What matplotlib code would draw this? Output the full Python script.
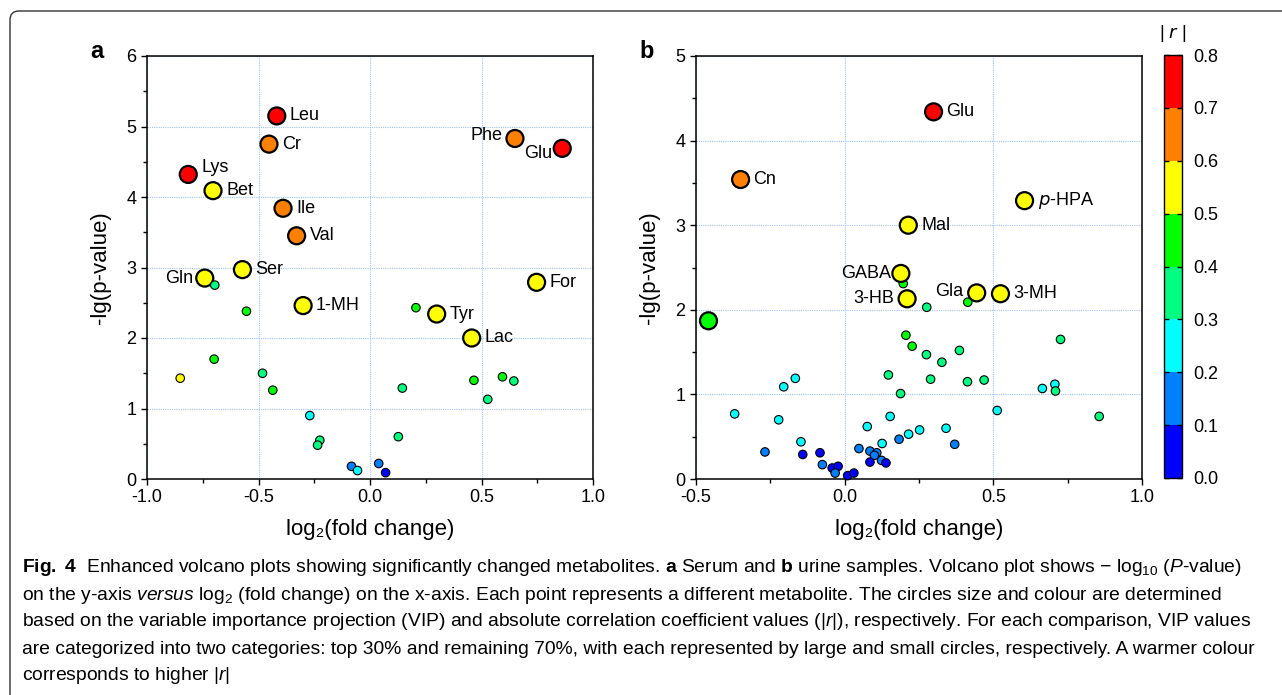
import matplotlib
matplotlib.use("Agg")
import matplotlib.pyplot as plt
import numpy as np
from matplotlib.colors import ListedColormap, BoundaryNorm
from matplotlib.cm import ScalarMappable
from matplotlib.ticker import MultipleLocator, FormatStrFormatter
from matplotlib.patches import FancyBboxPatch
from matplotlib.transforms import IdentityTransform
from matplotlib import font_manager as fm

# ---------------- data ----------------
# Panel a: serum
a_names = ["Leu", "Cr", "Lys", "Bet", "Ile", "Val", "Ser", "Gln", "Phe", "Glu", "For", "1-MH", "Tyr", "Lac",
           "", "", "", "", "", "", "", "", "", "", "", "", "", "", "", "", "", "", "", ""]
a_fc = [-0.418, -0.453, -0.815, -0.704, -0.390, -0.329, -0.572, -0.741, 0.650, 0.862, 0.747, -0.300, 0.299, 0.456,
        -0.696, -0.554, 0.206, -0.851, -0.699, -0.482, -0.436, 0.145, 0.466, 0.594, 0.645, 0.528,
        -0.270, -0.225, -0.235, 0.127, -0.083, -0.056, 0.039, 0.070]
a_p = [5.15, 4.75, 4.32, 4.09, 3.84, 3.45, 2.97, 2.85, 4.83, 4.69, 2.79, 2.46, 2.34, 2.00,
       2.75, 2.38, 2.43, 1.43, 1.70, 1.50, 1.26, 1.29, 1.40, 1.45, 1.39, 1.13,
       0.90, 0.55, 0.48, 0.60, 0.18, 0.12, 0.22, 0.09]
a_r = [0.75, 0.65, 0.75, 0.55, 0.65, 0.65, 0.55, 0.55, 0.65, 0.75, 0.55, 0.55, 0.55, 0.55,
       0.35, 0.45, 0.45, 0.55, 0.45, 0.35, 0.45, 0.35, 0.45, 0.45, 0.35, 0.35,
       0.25, 0.35, 0.35, 0.35, 0.15, 0.25, 0.15, 0.05]
a_top = [1] * 14 + [0] * 20

# Panel b: urine
b_names = ["", "", "", "", "", "", "", "", "", "", "", "", "", "", "", "", "", "", "", "", "",
           "", "", "", "", "", "", "", "", "", "", "", "", "", "", "", "", "", "", "", "", "", "", "", "",
           "", "", "",
           "Glu", "Cn", "p-HPA", "Mal", "GABA", "3-HB", "Gla", "3-MH", ""]
b_fc = [0.197, 0.414, 0.276, 0.206, 0.227, 0.275, 0.386, 0.327, 0.726, 0.147, 0.289, 0.413, 0.469, 0.188,
        0.665, 0.707, 0.709, 0.513, 0.856, 0.341, 0.252,
        0.215, 0.370, -0.370, -0.205, -0.166, -0.222, 0.153, 0.076, -0.147, 0.126, 0.183, -0.268, -0.141,
        -0.083, 0.048, 0.085, 0.108, 0.100, 0.085, 0.124, 0.139, -0.075, -0.042, -0.022,
        -0.032, 0.010, 0.031,
        0.299, -0.350, 0.605, 0.214, 0.189, 0.210, 0.444, 0.524, -0.458]
b_p = [2.31, 2.09, 2.03, 1.70, 1.57, 1.47, 1.52, 1.38, 1.65, 1.23, 1.18, 1.15, 1.17, 1.01,
       1.07, 1.12, 1.04, 0.81, 0.74, 0.60, 0.58,
       0.53, 0.41, 0.77, 1.09, 1.19, 0.70, 0.74, 0.62, 0.44, 0.42, 0.47, 0.32, 0.29,
       0.31, 0.36, 0.33, 0.31, 0.28, 0.20, 0.22, 0.19, 0.17, 0.13, 0.15,
       0.07, 0.04, 0.07,
       4.34, 3.54, 3.29, 3.00, 2.43, 2.13, 2.20, 2.19, 1.87]
b_r = [0.45, 0.45, 0.35, 0.45, 0.45, 0.35, 0.35, 0.35, 0.35, 0.35, 0.35, 0.35, 0.35, 0.35,
       0.25, 0.25, 0.35, 0.25, 0.35, 0.25, 0.25,
       0.25, 0.15, 0.25, 0.25, 0.25, 0.25, 0.25, 0.25, 0.25, 0.25, 0.15, 0.15, 0.05,
       0.05, 0.15, 0.15, 0.15, 0.15, 0.05, 0.15, 0.05, 0.15, 0.05, 0.05,
       0.15, 0.05, 0.05,
       0.75, 0.65, 0.55, 0.55, 0.55, 0.55, 0.55, 0.55, 0.45]
b_top = [0] * 48 + [1] * 9

bin_colors = ["#0000FF", "#0080FF", "#00FFFF", "#00FF80", "#00FF00", "#FFFF00", "#FF8000", "#FF0000"]
r_bounds = [0.0, 0.1, 0.2, 0.3, 0.4, 0.5, 0.6, 0.7, 0.8]

caption_lines = [
    r"$\mathbf{Fig.}$ $\mathbf{4}$  Enhanced volcano plots showing significantly changed metabolites. $\mathbf{a}$ Serum and $\mathbf{b}$ urine samples. Volcano plot shows − log$_{10}$ ($\mathit{P}$-value)",
    r"on the y-axis $\mathit{versus}$ log$_{2}$ (fold change) on the x-axis. Each point represents a different metabolite. The circles size and colour are determined",
    r"based on the variable importance projection (VIP) and absolute correlation coefficient values (|$\mathit{r}$|), respectively. For each comparison, VIP values",
    r"are categorized into two categories: top 30% and remaining 70%, with each represented by large and small circles, respectively. A warmer colour",
    r"corresponds to higher |$\mathit{r}$|",
]

# ---------------- style ----------------
plt.rcParams["font.family"] = ["Liberation Sans", "DejaVu Sans"]
plt.rcParams["axes.unicode_minus"] = False

avail = {f.name for f in fm.fontManager.ttflist}
cap_font = "Liberation Sans Narrow" if "Liberation Sans Narrow" in avail else "Liberation Sans"
plt.rcParams["mathtext.fontset"] = "custom"
plt.rcParams["mathtext.rm"] = cap_font
plt.rcParams["mathtext.it"] = cap_font + ":italic"
plt.rcParams["mathtext.bf"] = cap_font + ":bold"

W, H = 1282, 695
fig = plt.figure(figsize=(W / 100, H / 100), dpi=100)

cmap = ListedColormap(bin_colors)
norm = BoundaryNorm(r_bounds, cmap.N)

def px2pt(v):
    return v * 0.72

LARGE_S = px2pt(17) ** 2
SMALL_S = px2pt(8.5) ** 2

label_place_a = {
    "Lys": (13, 6.5, "left"), "Gln": (-12, 0, "right"), "Phe": (-12, 2.5, "right"),
    "Glu": (-10, -5.5, "right"),
}
label_place_b = {
    "GABA": (-10, 0, "right"), "3-HB": (-13, 0, "right"), "Gla": (-13, 1, "right"),
}

def setup(ax, xlim, ylim):
    ax.set_xlim(*xlim)
    ax.set_ylim(*ylim)
    ax.xaxis.set_major_locator(MultipleLocator(0.5))
    ax.xaxis.set_minor_locator(MultipleLocator(0.25))
    ax.yaxis.set_major_locator(MultipleLocator(1))
    ax.yaxis.set_minor_locator(MultipleLocator(0.5))
    ax.xaxis.set_major_formatter(FormatStrFormatter("%.1f"))
    ax.yaxis.set_major_formatter(FormatStrFormatter("%d"))
    ax.grid(True, which="major", linestyle=(0, (1, 1)), color="#9ec5f2", linewidth=0.8)
    ax.set_axisbelow(True)
    ax.tick_params(which="major", direction="out", length=4.5, width=1.0, labelsize=13, pad=3)
    ax.tick_params(which="minor", direction="out", length=3.2, width=1.0)
    for s in ax.spines.values():
        s.set_linewidth(1.1)
    ax.set_xlabel("log₂(fold change)", fontsize=16, labelpad=9)
    ax.set_ylabel("-lg(p-value)", fontsize=16, labelpad=11)

def draw(ax, fc, p, r, top, names, place):
    sizes = [LARGE_S if t else SMALL_S for t in top]
    lws = [1.6 if t else 0.8 for t in top]
    ax.scatter(fc, p, s=sizes, c=r, cmap=cmap, norm=norm, edgecolors="black",
               linewidths=lws, zorder=3, clip_on=False)
    for x, y, n in zip(fc, p, names):
        if not n:
            continue
        dx, dy, ha = place.get(n, (13, 0, "left"))
        txt = r"$\it{p}$-HPA" if n == "p-HPA" else n
        ax.annotate(txt, (x, y), xytext=(px2pt(dx), px2pt(dy)), textcoords="offset points",
                    ha=ha, va="center", fontsize=13, zorder=4, math_fontfamily="dejavusans")

axA = fig.add_axes([147 / W, 1 - 479 / H, 446 / W, 423 / H])
axB = fig.add_axes([696 / W, 1 - 479 / H, 446 / W, 423 / H])
cax = fig.add_axes([1164 / W, 1 - 478 / H, 18 / W, 423 / H])

setup(axA, (-1, 1), (0, 6))
setup(axB, (-0.5, 1.0), (0, 5))
draw(axA, a_fc, a_p, a_r, a_top, a_names, label_place_a)
draw(axB, b_fc, b_p, b_r, b_top, b_names, label_place_b)

cb = fig.colorbar(ScalarMappable(norm=norm, cmap=cmap), cax=cax, ticks=r_bounds)
cb.ax.yaxis.set_major_formatter(FormatStrFormatter("%.1f"))
cb.outline.set_linewidth(1.0)
cax.tick_params(direction="in", length=3.5, width=1.0, labelsize=13, left=True, right=True,
                labelleft=False, labelright=True, pad=8)
fig.text(1173 / W, 1 - 33 / H, r"| $\it{r}$ |", ha="center", va="center", fontsize=13,
         math_fontfamily="dejavusans")

fig.text(97 / W, 1 - 51 / H, "a", weight="bold", fontsize=17, ha="center", va="center")
fig.text(647 / W, 1 - 51 / H, "b", weight="bold", fontsize=17, ha="center", va="center")

# frame around the figure
frame = FancyBboxPatch((10, -30), 1320, H - 11 + 30, boxstyle="round,pad=0,rounding_size=9",
                       transform=IdentityTransform(), fill=False, edgecolor="#333333", linewidth=1.0)
fig.patches.append(frame)

# caption, fitted to the width of its first line
renderer = fig.canvas.get_renderer()
base = 12
t0 = fig.text(22 / W, 0.5, caption_lines[0], fontsize=base, family=cap_font)
wpx = t0.get_window_extent(renderer).width
t0.remove()
cap_size = base * (1240 - 22) / wpx
cap_y = [568, 595, 622, 649, 676]
for line, yy in zip(caption_lines, cap_y):
    fig.text(22 / W, 1 - yy / H, line, fontsize=cap_size, family=cap_font, va="center", ha="left")

fig.savefig("out.png", dpi=100)
